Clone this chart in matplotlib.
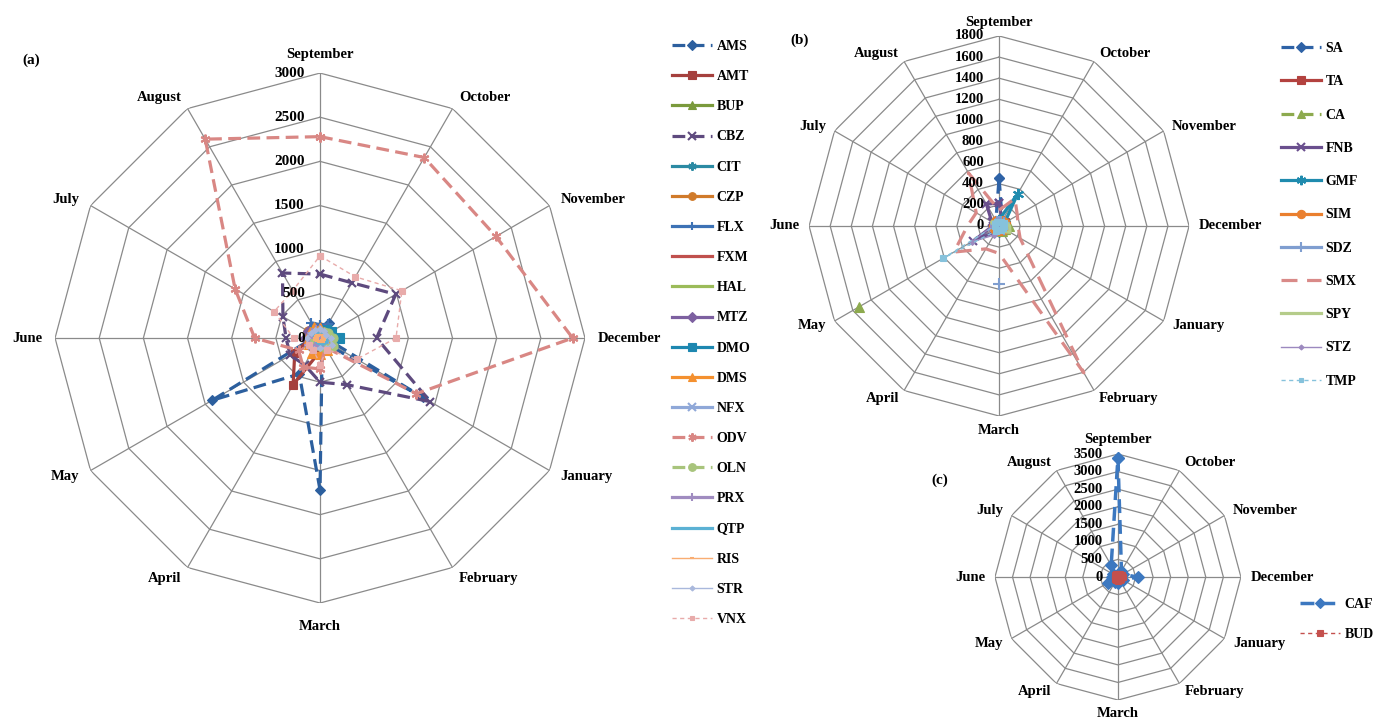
import numpy as np
import matplotlib.pyplot as plt

plt.rcParams['font.family'] = ['Liberation Serif', 'DejaVu Serif']
plt.rcParams['font.weight'] = 'bold'

months = ['September', 'October', 'November', 'December', 'January', 'February',
          'March', 'April', 'May', 'June', 'July', 'August']
nan = np.nan

# (a) monthly values, Sep -> Aug
AMS = [100, 200, 80, 60, 1340, 50, 1720, 470, 1410, 80, 60, 80]
AMT = [60, 50, 40, 50, 60, 80, 150, 610, 330, 100, 60, 50]
BUP = [60, 80, 100, 90, 70, 60, 50, 60, 80, 70, 60, 50]
CBZ = [724, 722, 990, 640, 1440, 610, 500, 350, 390, 385, 485, 850]
CIT = [100, 150, 120, 160, 90, 60, 50, 40, 60, 80, 90, 110]
CZP = [120, 90, 60, 50, 40, 60, 80, 70, 100, 150, 160, 140]
FLX = [150, 180, 90, 70, 60, 50, 60, 80, 100, 120, 140, 200]
FXM = [40, 30, 30, 40, 30, 30, 40, 50, 40, 40, 30, 30]
HAL = [30, 40, 30, 30, 40, 30, 30, 30, 40, 30, 30, 40]
MTZ = [100, 120, 140, 130, 110, 100, 90, 110, 150, 170, 160, 120]
DMO = [80, 100, 140, 220, 120, 80, 60, 50, 60, 70, 80, 90]
DMS = [110, 80, 70, 60, 100, 150, 180, 190, 140, 120, 130, 140]
NFX = [60, 70, 60, 80, 90, 70, 60, 50, 60, 70, 60, 50]
ODV = [2280, 2360, 2300, 2860, 1260, 120, 350, 380, 280, 740, 1110, 2600]
OLN = [70, 80, 110, 150, 170, 130, 90, 70, 60, 60, 70, 60]
PRX = [90, 60, 50, 40, 50, 60, 70, 120, 150, 140, 110, 100]
QTP = [50, 60, 70, 80, 90, 80, 70, 60, 50, 60, 70, 60]
RIS = [40, 40, 50, 40, 40, 50, 40, 40, 50, 40, 40, 40]
STR = [100, 90, 80, 120, 150, 130, 110, 140, 160, 150, 120, 110]
VNX = [930, 800, 1070, 860, 480, 150, 300, 150, 150, 300, 600, 620]

# (b) - blank months left as nan
SA = [454, 60, 40, 30, 30, 40, 60, 50, 40, 30, 40, 60]
TA = [40, 40, 50, 60, 50, 40, 40, 30, 30, 30, 30, 30]
CA = [50, 60, 80, 90, 60, 50, 40, nan, 1530, nan, 50, 40]
FNB = [216, 60, 40, 30, 30, 40, 50, 60, 280, 60, 80, 240]
GMF = [60, 354, 60, 40, 30, 30, 30, 30, 30, 30, 40, 50]
SIM = [50, 50, 60, 60, 50, 40, 40, 40, 50, 50, 50, 50]
SDZ = [40, 40, 50, 60, 50, nan, 546, nan, 30, 30, 30, 40]
SMX = [150, 300, 200, 180, 230, 1606, 260, 250, 494, 300, 250, 581]
SPY = [40, 60, 80, 100, 120, 60, 40, 30, 40, 60, 80, 50]
STZ = [50, 40, 40, 40, 40, 40, 50, 100, 300, 60, 50, 50]
TMP = [40, 40, 50, 50, 40, 40, 40, 50, 613, 40, 40, 40]

# (c)
CAF = [3400, 200, 150, 570, 150, 100, 170, 150, 330, 170, 150, 385]
BUD = [80, 100, 120, 140, 100, 90, 120, 100, 90, 80, 100, 90]

GRID = '#8a8a8a'
DASH = (0, (4, 2))
DOT = (0, (3, 2.5))

# name, values, colour, linestyle, marker, markersize, linewidth
series_a = [
    ('AMS', AMS, '#2c5f9e', DASH, 'D', 5.5, 2.3),
    ('AMT', AMT, '#a5403d', '-', 's', 6, 2.3),
    ('BUP', BUP, '#7a9a3c', '-', '^', 6.5, 2.3),
    ('CBZ', CBZ, '#5e4a7e', DASH, 'x', 6, 2.3),
    ('CIT', CIT, '#2b8aa3', '-', (6, 2, 0), 7, 2.3),
    ('CZP', CZP, '#d07a2a', '-', 'o', 6.5, 2.3),
    ('FLX', FLX, '#3d72b5', '-', '+', 7, 2.3),
    ('FXM', FXM, '#c0504d', '-', None, 0, 2.3),
    ('HAL', HAL, '#9bbb59', '-', None, 0, 2.3),
    ('MTZ', MTZ, '#7d60a0', '-', 'D', 5.5, 2.3),
    ('DMO', DMO, '#1d87b0', '-', 's', 6.5, 2.3),
    ('DMS', DMS, '#f4902f', '-', '^', 6.5, 2.3),
    ('NFX', NFX, '#8fa8d8', '-', 'x', 6, 2.3),
    ('ODV', ODV, '#d98784', DASH, (6, 2, 0), 7, 2.3),
    ('OLN', OLN, '#a8c47c', DASH, 'o', 6.5, 2.3),
    ('PRX', PRX, '#a08cc0', '-', '+', 7, 2.3),
    ('QTP', QTP, '#5bb1d4', '-', None, 0, 2.3),
    ('RIS', RIS, '#f9ad72', '-', '_', 4, 1.0),
    ('STR', STR, '#a9b8dc', '-', 'D', 3, 1.0),
    ('VNX', VNX, '#e8abaa', DOT, 's', 4, 1.0),
]

series_b = [
    ('SA', SA, '#2e62a6', DASH, 'D', 5.5, 2.3),
    ('TA', TA, '#b3423f', '-', 's', 7, 2.3),
    ('CA', CA, '#8daa4e', DASH, '^', 7.5, 2.3),
    ('FNB', FNB, '#6a4f8e', '-', 'x', 6, 2.3),
    ('GMF', GMF, '#1f8bae', '-', (6, 2, 0), 8, 2.3),
    ('SIM', SIM, '#ea7f2e', '-', 'o', 7, 2.3),
    ('SDZ', SDZ, '#7f9ed0', '-', '+', 8, 2.3),
    ('SMX', SMX, '#d98a88', (0, (5, 3)), None, 0, 2.3),
    ('SPY', SPY, '#b5cc8a', '-', None, 0, 2.3),
    ('STZ', STZ, '#9c89bf', '-', 'D', 3, 1.0),
    ('TMP', TMP, '#86c2dc', DOT, 's', 4, 1.0),
]

series_c = [
    ('CAF', CAF, '#3c78c0', DASH, 'D', 6, 2.5),
    ('BUD', BUD, '#c4504d', DOT, 's', 4.5, 1.0),
]


def radar(fig, rect, rmax, step, fs, mfs, off, top_off, bot_off):
    ax = fig.add_axes(rect, projection='polar')
    ax.set_theta_zero_location('N')
    ax.set_theta_direction(-1)
    ax.set_ylim(0, rmax)
    ax.grid(False)
    ax.set_xticks([])
    ax.set_yticks([])
    ax.spines['polar'].set_visible(False)
    ax.patch.set_alpha(0)
    theta = np.linspace(0, 2 * np.pi, 13)

    # polygon rings and spokes
    for r in np.arange(step, rmax + step / 2, step):
        ax.plot(theta, [r] * 13, color=GRID, lw=0.9, zorder=0)
    for t in theta[:-1]:
        ax.plot([t, t], [0, rmax], color=GRID, lw=0.9, zorder=0)

    for r in np.arange(0, rmax + step / 2, step):
        ax.annotate('%d' % r, xy=(0, r), xytext=(-11, 0), textcoords='offset points',
                    ha='right', va='center', fontsize=fs, zorder=10)

    for t, m in zip(theta[:-1], months):
        s, c = np.sin(t), np.cos(t)
        ha = 'left' if s > 0.1 else ('right' if s < -0.1 else 'center')
        if c > 0.9:
            va, d = 'bottom', top_off
        elif c < -0.9:
            va, d = 'top', bot_off
        else:
            va, d = 'center', off
        ax.annotate(m, xy=(t, rmax), xytext=(d * s, d * c), textcoords='offset points',
                    ha=ha, va=va, fontsize=mfs)
    return ax, theta


def draw(ax, theta, series):
    handles = []
    for name, vals, col, ls, mk, ms, lw in series:
        v = list(vals) + [vals[0]]
        ln, = ax.plot(theta, v, color=col, ls=ls, lw=lw, marker=mk, ms=ms,
                      mew=1.5 if mk in ('x', '+', (6, 2, 0), '_') else 0.8,
                      mec=col, mfc=col, label=name, clip_on=False)
        handles.append(ln)
    return handles


fig = plt.figure(figsize=(13.75, 7.24), dpi=100)

ax_a, th = radar(fig, [0.04, 0.1671, 0.3855, 0.732], 3000, 500, 11, 10.5, 9, 9, 12)
h_a = draw(ax_a, th, series_a)

ax_b, th = radar(fig, [0.5884, 0.4254, 0.2764, 0.5249], 1800, 200, 10.5, 10.5, 7, 5, 6)
h_b = draw(ax_b, th, series_b)

ax_c, th = radar(fig, [0.7236, 0.0331, 0.1789, 0.3398], 3500, 500, 10.5, 10.5, 7, 6, 5)
h_c = draw(ax_c, th, series_c)

fig.text(31 / 1375, 1 - 60 / 724, '(a)', fontsize=11, ha='center', va='center')
fig.text(800 / 1375, 1 - 40 / 724, '(b)', fontsize=11, ha='center', va='center')
fig.text(940 / 1375, 1 - 480 / 724, '(c)', fontsize=11, ha='center', va='center')

leg_kw = dict(loc='upper left', frameon=False, borderpad=0, borderaxespad=0,
              handlelength=2.9, handletextpad=0.3, numpoints=1, fontsize=10,
              markerscale=0.85)
fig.legend(handles=h_a, bbox_to_anchor=(672 / 1375, 1 - 40 / 724), labelspacing=1.235, **leg_kw)
fig.legend(handles=h_b, bbox_to_anchor=(1281 / 1375, 1 - 42 / 724), labelspacing=1.46, **leg_kw)
fig.legend(handles=h_c, bbox_to_anchor=(1300 / 1375, 1 - 598 / 724), labelspacing=1.22, **leg_kw)

fig.savefig('out.png', dpi=100)
